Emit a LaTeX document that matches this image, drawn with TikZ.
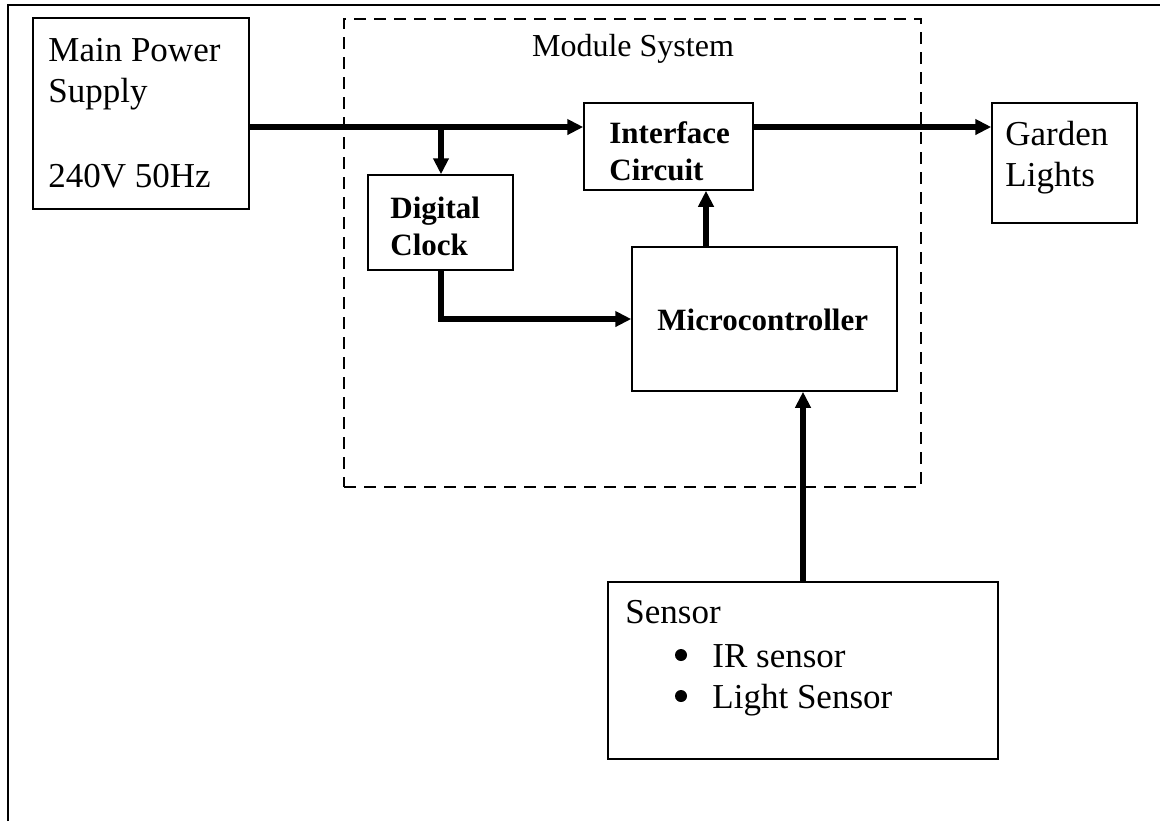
\documentclass[tikz,border=0pt]{standalone}
\usepackage{fontspec}
\setmainfont{Liberation Serif}
\usetikzlibrary{arrows.meta,fit}
\begin{document}
\begin{tikzpicture}[x=0.5pt,y=-0.5pt,
  box/.style={draw, line width=0.75pt, inner sep=0pt},
  big/.style={font=\fontsize{17.5}{21}\selectfont, inner sep=0pt, anchor=base west},
  bld/.style={font=\fontsize{15.5}{19}\selectfont\bfseries, inner sep=0pt, anchor=base west},
  small/.style={font=\fontsize{16}{19}\selectfont, inner sep=0pt, anchor=base},
  dot/.style={circle, fill, inner sep=0pt, minimum size=6pt},
  link/.style={line width=2.6pt, -{Triangle[length=8pt,width=7.5pt]}},
  frame/.style={line width=1pt},
  module/.style={draw, dash pattern=on 6pt off 4pt, line width=0.6pt, inner sep=0pt}]
\useasboundingbox (0,0) rectangle (1160,821);
% outer frame
\draw[frame] (8,821) -- (8,5) -- (1160,5);
% module system
\node[module, fit={(344,19) (921,487)}] (mod) {};
\node[small] (modlabel) at (633,56) {Module System};
% boxes
\node[box, fit={(33,18) (249,209)}] (mps) {};
\node[big] (mps1) at (48,61) {Main Power};
\node[big] (mps2) at (48,102) {Supply};
\node[big] (mps3) at (48,187) {240V 50Hz};
\node[box, fit={(584,103) (753,190)}] (iface) {};
\node[bld] (if1) at (609,143) {Interface};
\node[bld] (if2) at (609,180) {Circuit};
\node[box, fit={(368,175) (513,270)}] (dclock) {};
\node[bld] (dc1) at (390,218) {Digital};
\node[bld] (dc2) at (390,255) {Clock};
\node[box, fit={(632,247) (897,391)}] (micro) {};
\node[bld] (mc1) at (657,330) {Microcontroller};
\node[box, fit={(992,103) (1137,223)}] (garden) {};
\node[big] (gl1) at (1005,145) {Garden};
\node[big] (gl2) at (1005,186) {Lights};
\node[box, fit={(608,582) (998,759)}] (sensor) {};
\node[big] (s1) at (625,623) {Sensor};
\node[dot] (b1) at (681,655) {};
\node[big] (s2) at (712,667) {IR sensor};
\node[dot] (b2) at (681,696) {};
\node[big] (s3) at (712,708) {Light Sensor};
% connector helpers
\coordinate (row) at (0,127);
\coordinate (bx) at (441,127);
\coordinate (ux) at (706,0);
% connectors
\draw[link] (mps.east |- row) -- (iface.west |- row);
\draw[link] (bx) -- (dclock.north -| bx);
\draw[link] (dclock.south -| bx) |- (micro.west);
\draw[link] (micro.north -| ux) -- (iface.south -| ux);
\draw[link] (iface.east |- row) -- (garden.west |- row);
\draw[link] (sensor.north) -- (micro.south -| sensor.north);
\end{tikzpicture}
\end{document}
